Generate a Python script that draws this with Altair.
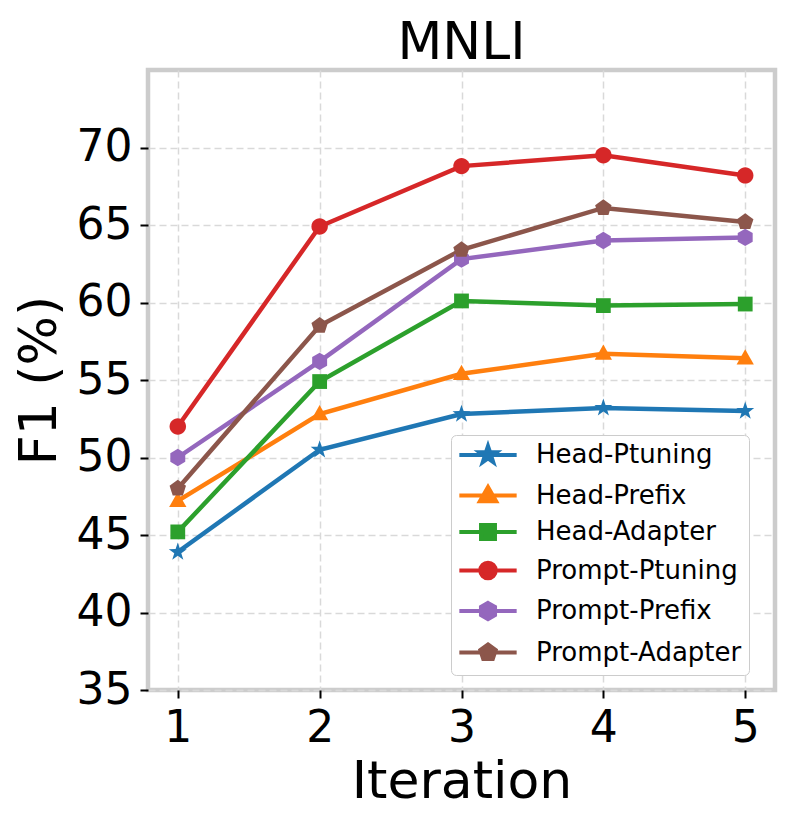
import math
import altair as alt
import pandas as pd

iterations = [1, 2, 3, 4, 5]
series_names = ["Head-Ptuning", "Head-Prefix", "Head-Adapter",
                "Prompt-Ptuning", "Prompt-Prefix", "Prompt-Adapter"]
head_ptuning = [43.9, 50.5, 52.8, 53.2, 53.0]
head_prefix = [47.2, 52.8, 55.4, 56.7, 56.4]
head_adapter = [45.2, 54.9, 60.1, 59.8, 59.9]
prompt_ptuning = [52.0, 64.9, 68.8, 69.5, 68.2]
prompt_prefix = [50.0, 56.2, 62.8, 64.0, 64.2]
prompt_adapter = [48.0, 58.5, 63.4, 66.1, 65.2]
y_ticks = [35, 40, 45, 50, 55, 60, 65, 70]
colors = ["#1f77b4", "#ff7f0e", "#2ca02c", "#d62728", "#9467bd", "#8c564b"]

values = [head_ptuning, head_prefix, head_adapter,
          prompt_ptuning, prompt_prefix, prompt_adapter]
rows = []
for name, vals in zip(series_names, values):
    for it, v in zip(iterations, vals):
        rows.append({"iteration": it, "f1": v, "series": name})
df = pd.DataFrame(rows)


def poly(n, r, rot, inner=None):
    pts = []
    k = n * 2 if inner else n
    for i in range(k):
        a = math.radians(rot + 360.0 * i / k)
        rr = r if (not inner or i % 2 == 0) else inner
        pts.append((rr * math.cos(a), rr * math.sin(a)))
    return "M" + "L".join(f"{x:.3f},{y:.3f}" for x, y in pts) + "Z"


star = poly(5, 1.15, -90, inner=0.45)
tri = "M0,-1.1L1.05,0.75L-1.05,0.75Z"
square = "M-0.9,-0.9H0.9V0.9H-0.9Z"
circle = "M-1,0A1,1,0,1,0,1,0A1,1,0,1,0,-1,0Z"
hexagon = poly(6, 1.05, -90)
pentagon = poly(5, 1.05, -90)
marker_paths = [star, tri, square, circle, hexagon, pentagon]

line_half = "M-3.7,0H3.7"
legend_paths = [line_half + p for p in marker_paths]

color_scale = alt.Scale(domain=series_names, range=colors)

base = alt.Chart(df)
x_enc = alt.X("iteration:Q",
              scale=alt.Scale(domain=[0.79, 5.21], nice=False, zero=False),
              axis=alt.Axis(values=iterations, format="d", title="Iteration"))
y_enc = alt.Y("f1:Q",
              scale=alt.Scale(domain=[35, 75], nice=False, zero=False),
              axis=alt.Axis(values=y_ticks, title="F1 (%)"))

lines = base.mark_line(strokeWidth=4.5).encode(
    x=x_enc, y=y_enc,
    color=alt.Color("series:N", scale=color_scale, sort=series_names, title=None),
    detail="series:N",
)

layers = [lines]
for name, path in zip(series_names, marker_paths):
    layers.append(
        base.transform_filter(alt.datum.series == name)
        .mark_point(shape=path, filled=True, size=270, opacity=1)
        .encode(x=x_enc, y=y_enc,
                color=alt.Color("series:N", scale=color_scale,
                                sort=series_names, title=None))
    )

legend_layer = base.mark_point(filled=True, opacity=0, size=240).encode(
    x=x_enc, y=y_enc,
    color=alt.Color("series:N", scale=color_scale, sort=series_names, title=None),
    stroke=alt.Stroke("series:N", scale=color_scale, sort=series_names, title=None),
    shape=alt.Shape("series:N",
                    scale=alt.Scale(domain=series_names, range=legend_paths),
                    sort=series_names, title=None),
)
layers.append(legend_layer)

chart = alt.layer(*layers).properties(
    width=627, height=620,
    title=alt.Title("MNLI", fontSize=52, font="DejaVu Sans", fontWeight="normal",
                    color="black", offset=0),
    autosize=alt.AutoSizeParams(type="none"),
    padding={"left": 140, "top": 62, "right": 6, "bottom": 128},
).configure_view(
    stroke="#cccccc", strokeWidth=4.5
).configure_axis(
    labelFont="DejaVu Sans", labelFontSize=44, labelColor="black",
    titleFont="DejaVu Sans", titleFontSize=52, titleFontWeight="normal",
    titleColor="black",
    grid=True, gridColor="#d9d9d9", gridDash=[7, 4], gridWidth=1.5,
    domain=False, tickColor="black", tickSize=8, tickWidth=2,
    labelPadding=8,
).configure_axisY(
    titlePadding=10
).configure_axisX(
    titlePadding=6
).configure_legend(
    orient="none", legendX=303, legendY=365,
    labelFontSize=26, labelFont="DejaVu Sans", labelColor="black",
    labelLimit=400,
    symbolSize=240, symbolStrokeWidth=4, symbolOpacity=1,
    symbolOffset=17, labelOffset=35,
    rowPadding=7.5, padding=7,
    cornerRadius=5, strokeColor="#cccccc", fillColor="white",
)

chart.save("out.html", embed_options={"renderer": "svg", "actions": False})
